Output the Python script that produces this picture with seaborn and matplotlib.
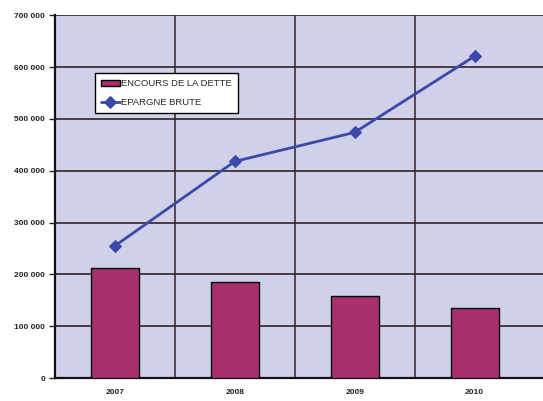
import numpy as np
import pandas as pd
import matplotlib
matplotlib.use("Agg")
import matplotlib.pyplot as plt
import seaborn as sns
from matplotlib.ticker import FuncFormatter, FixedLocator

# Données
annees = ["2007", "2008", "2009", "2010"]
encours_dette = [212000, 185000, 158000, 136000]
epargne_brute = [255000, 418000, 474000, 621000]
label_barres = "ENCOURS DE LA DETTE"
label_ligne = "EPARGNE BRUTE"

sns.set_style("white")
plt.rcParams["font.family"] = ["Liberation Sans", "DejaVu Sans"]

fond = "#d0d0e8"
couleur_barre = "#a8306e"
couleur_ligne = "#3a4aa8"
couleur_grille = "#2e2226"

fig = plt.figure(figsize=(5.43, 4.01), dpi=100)
ax = fig.add_axes([0.101, 0.057, 0.899, 0.905])
ax.set_facecolor(fond)

df = pd.DataFrame({"annee": annees, "dette": encours_dette, "epargne": epargne_brute})

sns.barplot(data=df, x="annee", y="dette", order=annees, color=couleur_barre,
            saturation=1, width=0.4, edgecolor="black", linewidth=1.0,
            ax=ax, label=label_barres, zorder=3)

sns.lineplot(x=np.arange(len(annees)), y=df["epargne"], ax=ax, color=couleur_ligne,
             linewidth=2.0, marker="D", markersize=6, markeredgecolor=couleur_ligne,
             label=label_ligne, zorder=4)

ax.set_xlim(-0.5, 3.57)
ax.set_ylim(0, 700000)
ax.set_xlabel("")
ax.set_ylabel("")

ax.yaxis.set_major_locator(FixedLocator(np.arange(0, 700001, 100000)))
ax.yaxis.set_major_formatter(FuncFormatter(lambda v, p: f"{int(v):,}".replace(",", " ")))
ax.set_xticks(range(len(annees)))
ax.set_xticklabels(annees, fontweight="bold")
for t in ax.get_yticklabels():
    t.set_fontweight("bold")
ax.set_xticks(np.arange(-0.5, 3.0, 1.0), minor=True)

ax.grid(False)
for v in np.arange(100000, 700001, 100000):
    ax.axhline(v, color=couleur_grille, linewidth=1.2, zorder=1)
for v in np.arange(0.5, 3.0, 1.0):
    ax.axvline(v, color=couleur_grille, linewidth=1.1, zorder=1)

for s in ["top", "right"]:
    ax.spines[s].set_visible(False)
ax.spines["left"].set_color("#111111")
ax.spines["left"].set_linewidth(1.6)
ax.spines["bottom"].set_color("#111111")
ax.spines["bottom"].set_linewidth(1.6)

ax.tick_params(axis="y", which="major", direction="out", length=4, width=1,
               labelsize=6, colors="#222222", pad=3)
ax.tick_params(axis="x", which="major", length=0, labelsize=6, pad=8, colors="#222222")
ax.tick_params(axis="x", which="minor", direction="out", length=4, width=1, colors="#111111")
ax.tick_params(left=True, bottom=True)

handles, labels = ax.get_legend_handles_labels()
order = [labels.index(label_barres), labels.index(label_ligne)]
leg = ax.legend([handles[i] for i in order], [labels[i] for i in order],
                loc="upper left", bbox_to_anchor=(0.082, 0.84), frameon=True,
                fancybox=False, fontsize=6.8, handlelength=2.0, handletextpad=0.15,
                borderpad=0.65, labelspacing=1.05, borderaxespad=0)
leg.get_frame().set_edgecolor("black")
leg.get_frame().set_linewidth(1.0)
leg.get_frame().set_facecolor("white")
leg.get_frame().set_alpha(1)

fig.savefig("out.png", dpi=100, facecolor="white")
